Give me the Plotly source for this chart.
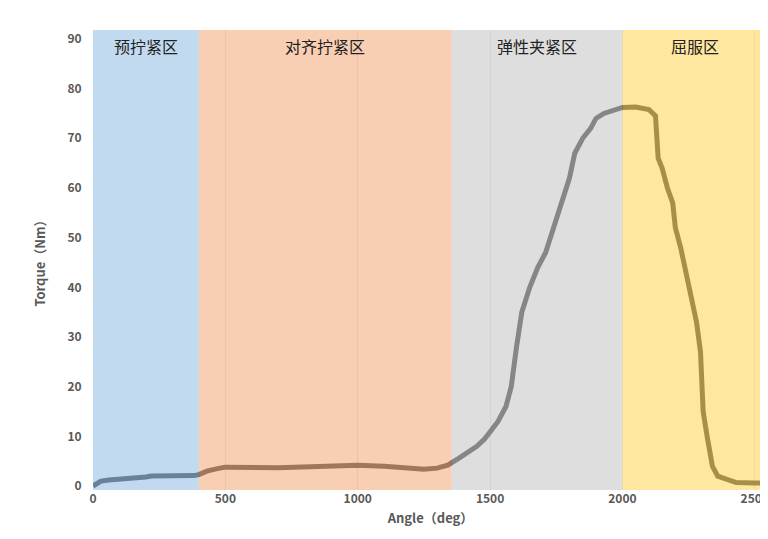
import plotly.graph_objects as go

angle = [0,30,60,150,200,220,300,380,400,430,470,500,700,900,1000,1100,1200,1250,1300,1340,1380,1420,1450,1480,1500,1530,1560,1580,1600,1620,1650,1680,1710,1740,1770,1800,1820,1850,1880,1900,1930,2000,2050,2100,2125,2135,2150,2170,2190,2200,2220,2240,2260,2280,2295,2305,2320,2340,2360,2400,2430,2500,2550]
torque = [0,1,1.2,1.5,1.8,2,2,2.1,2.3,3,3.5,3.8,3.7,4,4.2,4,3.7,3.4,3.6,4.2,5.5,7,8,9.5,11,13,16,20,28,35,40,44,47,52,57,62,67,70,72,74,75,76.2,76.3,75.8,74.5,66,64,60,57,52,48,43,37,33,27,15,10,4,2,1.2,0.7,0.6,0.6]
zones = [(0,400,"预拧紧区","#9DC3E6"),(400,1355,"对齐拧紧区","#F4B183"),(1355,2000,"弹性夹紧区","#C9C9C9"),(2000,2550,"屈服区","#FFD966")]

fig = go.Figure(go.Scatter(x=angle, y=torque, mode="lines", line=dict(color="#1a1a1a", width=5), showlegend=False))
for x0,x1,name,c in zones:
    fig.add_shape(type="rect", x0=x0, x1=x1, y0=-0.8, y1=91.8, fillcolor=c, opacity=0.62, line_width=0, layer="above")
    fig.add_annotation(x=(x0+x1)/2, y=88.5, text=name, showarrow=False, font=dict(size=16, color="#222"))
fig.update_layout(width=768, height=539, margin=dict(l=85, r=8, t=22, b=57),
    plot_bgcolor="white", paper_bgcolor="white",
    font=dict(family="Noto Sans CJK SC, DejaVu Sans", color="#595959"))
fig.update_xaxes(range=[0,2550], tickvals=[0,500,1000,1500,2000,2500], automargin=False,
    tickfont=dict(size=12, color="#595959", weight="bold"),
    showgrid=True, gridcolor="#e0e0e0", zeroline=False, showline=False,
    title=dict(text="<b>Angle（deg）</b>", font=dict(size=13, color="#595959"), standoff=8))
fig.update_yaxes(range=[-0.8,91.8], tickvals=list(range(0,91,10)), showgrid=False, zeroline=False, automargin=False,
    tickfont=dict(size=12, color="#595959", weight="bold"), ticklen=8, tickcolor="white", ticks="outside",
    title=dict(text="<b>Torque（Nm）</b>", font=dict(size=13, color="#595959"), standoff=18))
fig.write_html("out.html")
